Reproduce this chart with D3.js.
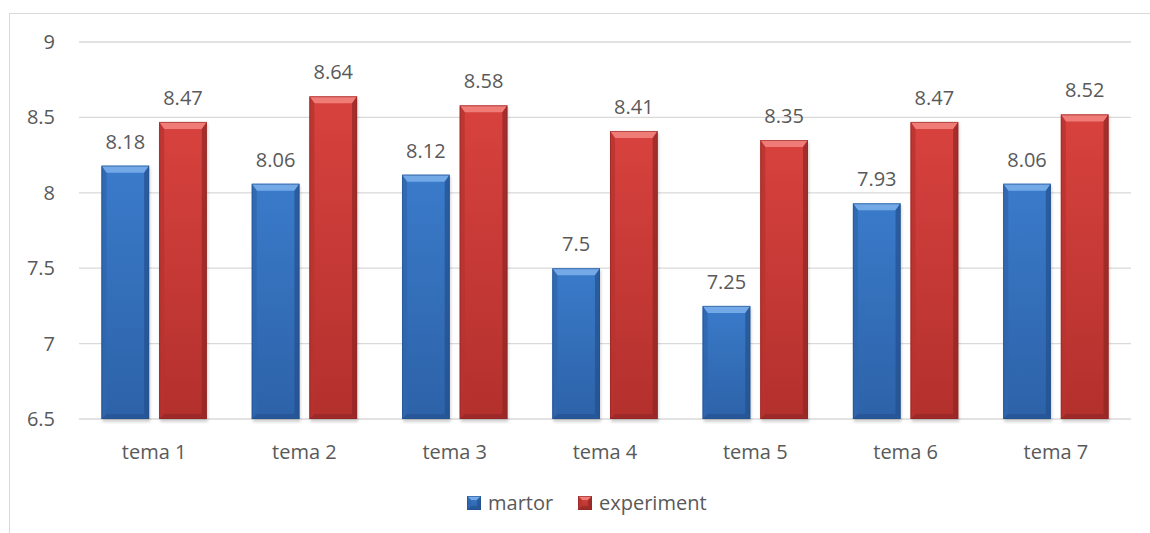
<!DOCTYPE html>
<html>
<head>
<meta charset="utf-8">
<script src="https://cdn.jsdelivr.net/npm/d3@7"></script>
<style>
  body { margin: 0; background: #fff; }
  text { font-family: "Open Sans", sans-serif; fill: #595959; }
</style>
</head>
<body>
<svg id="chart" width="1150" height="533"></svg>
<script>
// data
const categories = ["tema 1", "tema 2", "tema 3", "tema 4", "tema 5", "tema 6", "tema 7"];
const martor = [8.18, 8.06, 8.12, 7.5, 7.25, 7.93, 8.06];
const experiment = [8.47, 8.64, 8.58, 8.41, 8.35, 8.47, 8.52];
const yTicks = [6.5, 7, 7.5, 8, 8.5, 9];
const seriesNames = ["martor", "experiment"];

const svg = d3.select("#chart");

// outer frame (cut by the picture edges)
svg.append("rect")
  .attr("x", 9.5).attr("y", 13.5)
  .attr("width", 1160).attr("height", 540)
  .attr("fill", "none").attr("stroke", "#d9d9d9");

const plotL = 79, plotR = 1131, plotT = 42, plotB = 419;

const x = d3.scaleBand().domain(categories).range([plotL, plotR]);
const y = d3.scaleLinear().domain([6.5, 9]).range([plotB, plotT]);

const pal = {
  martor: { main: "#3a7bca", dark: "#23508d", light: "#74a9e8", low: "#2d62a8", side: "#2f67ae" },
  experiment: { main: "#d8423e", dark: "#8e2624", light: "#f07c78", low: "#b3302d", side: "#b8332f" }
};

const defs = svg.append("defs");
seriesNames.forEach(s => {
  const g = defs.append("linearGradient").attr("id", "g-" + s)
    .attr("x1", 0).attr("y1", 0).attr("x2", 0).attr("y2", 1);
  g.append("stop").attr("offset", "0%").attr("stop-color", pal[s].main);
  g.append("stop").attr("offset", "100%").attr("stop-color", pal[s].low);
});
const blur = defs.append("filter").attr("id", "shadow")
  .attr("x", "-20%").attr("y", "-20%").attr("width", "140%").attr("height", "140%");
blur.append("feGaussianBlur").attr("stdDeviation", 1.5);

// gridlines
svg.append("g").selectAll("line")
  .data(yTicks).join("line")
  .attr("x1", plotL).attr("x2", plotR)
  .attr("y1", d => y(d)).attr("y2", d => y(d))
  .attr("stroke", "#d9d9d9").attr("stroke-width", 1.3);

// y labels
svg.append("g").selectAll("text")
  .data(yTicks).join("text")
  .attr("x", 55).attr("y", d => y(d) + 7)
  .attr("text-anchor", "end")
  .style("font-size", "20px")
  .text(d => d);

const inner = d3.scaleBand().domain(seriesNames)
  .range([0, x.bandwidth()]).paddingInner(0.174).paddingOuter(0.39);

// draws a bevelled box like Excel's "angle" bar style
function bevelBox(g, x0, y0, w, h, s, b, bt) {
  const c = pal[s];
  g.append("rect").attr("x", x0).attr("y", y0).attr("width", w).attr("height", h)
    .attr("fill", "url(#g-" + s + ")");
  const x1 = x0 + w, y1 = y0 + h;
  const poly = (pts, fill, op) => g.append("polygon")
    .attr("points", pts.map(p => p.join(",")).join(" "))
    .attr("fill", fill).attr("opacity", op);
  poly([[x0, y0], [x1, y0], [x1 - b, y0 + bt], [x0 + b, y0 + bt]], c.light, 1);
  poly([[x0, y0], [x0 + b, y0 + bt], [x0 + b, y1 - b], [x0, y1]], c.side, 0.8);
  poly([[x1, y0], [x1, y1], [x1 - b, y1 - b], [x1 - b, y0 + bt]], c.dark, 0.7);
  poly([[x0, y1], [x0 + b, y1 - b], [x1 - b, y1 - b], [x1, y1]], c.dark, 0.6);
  g.append("rect").attr("x", x0 + 0.5).attr("y", y0 + 0.5).attr("width", w - 1).attr("height", h - 1)
    .attr("fill", "none").attr("stroke", c.dark).attr("stroke-opacity", 0.6);
}

const rows = categories.map((c, i) => ({ cat: c, martor: martor[i], experiment: experiment[i] }));

rows.forEach(r => {
  seriesNames.forEach(s => {
    const bx = x(r.cat) + inner(s);
    const bw = inner.bandwidth();
    const by = y(r[s]);
    const g = svg.append("g");
    // soft shadow
    g.append("rect").attr("x", bx + 1).attr("y", by + 2).attr("width", bw).attr("height", plotB - by + 1)
      .attr("fill", "#000").attr("opacity", 0.18).attr("filter", "url(#shadow)");
    bevelBox(g, bx, by, bw, plotB - by, s, 5, 7);
    svg.append("text")
      .attr("x", bx + bw / 2).attr("y", by - 17)
      .attr("text-anchor", "middle")
      .style("font-size", "20px")
      .text(r[s]);
  });
});

// category labels
svg.append("g").selectAll("text")
  .data(categories).join("text")
  .attr("x", d => x(d) + x.bandwidth() / 2).attr("y", 459)
  .attr("text-anchor", "middle")
  .style("font-size", "20px")
  .text(d => d);

// legend
const legendX = [467, 578];
seriesNames.forEach((s, i) => {
  const g = svg.append("g");
  bevelBox(g, legendX[i], 496, 14, 14, s, 4, 4);
  svg.append("text").attr("x", legendX[i] + 21).attr("y", 510)
    .style("font-size", "20px").text(s);
});
</script>
</body>
</html>
